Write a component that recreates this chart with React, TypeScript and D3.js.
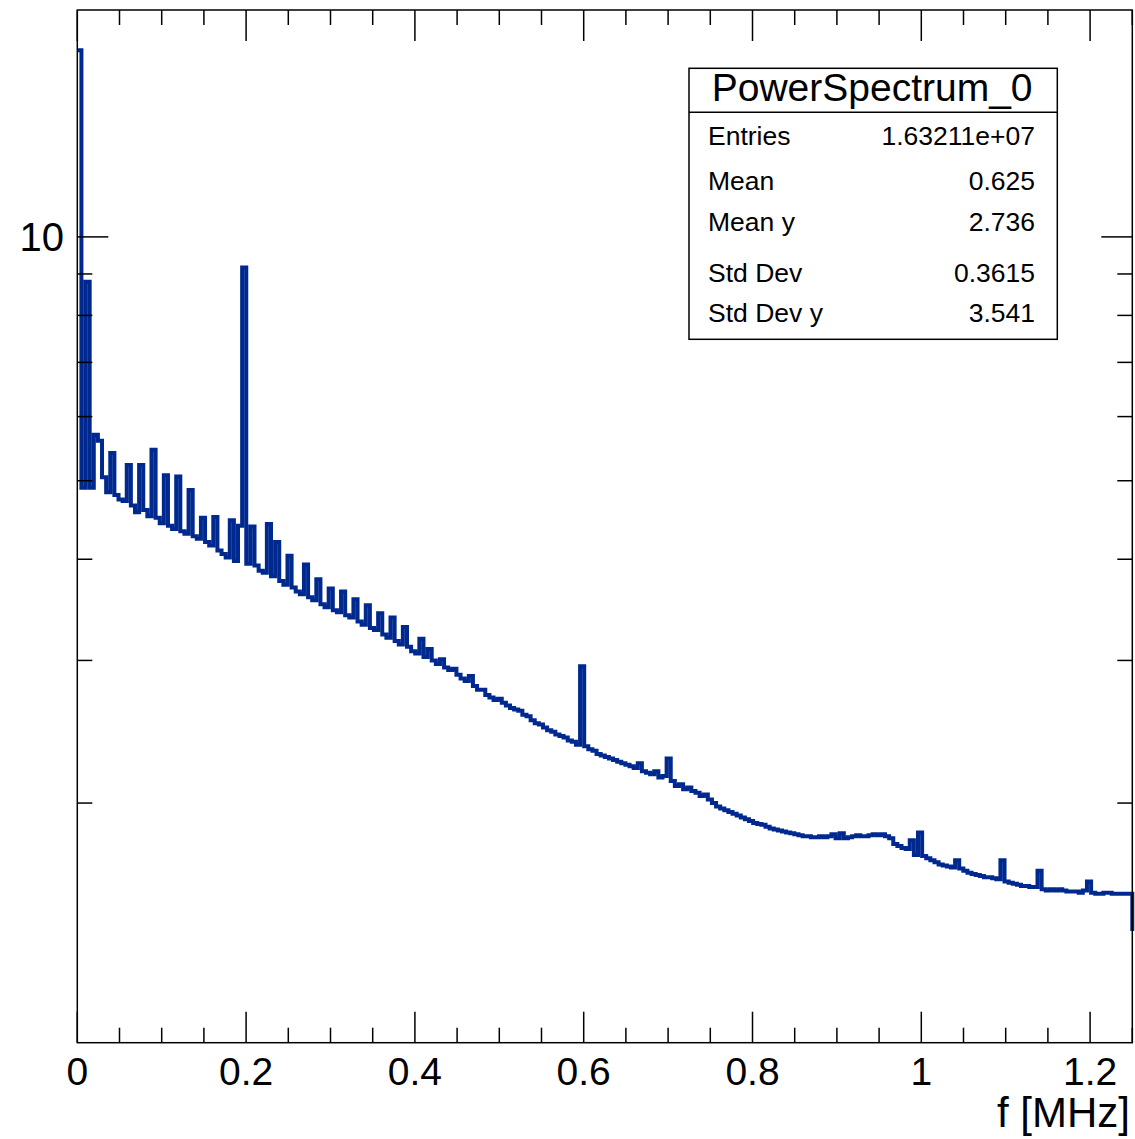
import React, { useRef, useEffect } from 'react'
import * as d3 from 'd3'

// histogram: 256 bins over [0, 1.25] MHz
const fMin = 0
const fMax = 1.25
const power = [
    17.0, 4.9, 8.8, 4.9, 5.7, 5.6, 5.05, 4.84, 5.41, 4.80,
    4.74, 4.72, 5.23, 4.66, 4.57, 5.23, 4.60, 4.52, 5.46, 4.50,
    4.43, 5.08, 4.40, 4.36, 5.06, 4.33, 4.30, 4.87, 4.27, 4.24,
    4.50, 4.20, 4.16, 4.51, 4.10, 4.06, 4.02, 4.47, 3.98, 4.40,
    9.17, 3.95, 4.39, 3.93, 3.87, 3.85, 4.42, 3.81, 4.20, 3.76,
    3.72, 4.04, 3.69, 3.65, 3.62, 3.94, 3.59, 3.56, 3.78, 3.52,
    3.49, 3.68, 3.46, 3.44, 3.65, 3.41, 3.39, 3.57, 3.35, 3.32,
    3.51, 3.29, 3.27, 3.43, 3.23, 3.20, 3.39, 3.17, 3.14, 3.30,
    3.12, 3.08, 3.06, 3.19, 3.03, 3.10, 3.00, 2.97, 3.01, 2.94,
    2.92, 2.93, 2.88, 2.85, 2.83, 2.87, 2.79, 2.76, 2.76, 2.72,
    2.70, 2.68, 2.69, 2.66, 2.64, 2.62, 2.61, 2.60, 2.57, 2.56,
    2.53, 2.51, 2.50, 2.48, 2.46, 2.45, 2.43, 2.42, 2.41, 2.39,
    2.38, 2.36, 2.95, 2.35, 2.33, 2.32, 2.30, 2.29, 2.28, 2.27,
    2.26, 2.25, 2.24, 2.23, 2.22, 2.21, 2.24, 2.19, 2.18, 2.17,
    2.19, 2.15, 2.16, 2.27, 2.13, 2.10, 2.11, 2.08, 2.09, 2.07,
    2.06, 2.04, 2.05, 2.02, 2.00, 1.98, 1.97, 1.96, 1.95, 1.94,
    1.93, 1.92, 1.91, 1.90, 1.89, 1.885, 1.88, 1.87, 1.86, 1.855,
    1.85, 1.845, 1.84, 1.835, 1.83, 1.825, 1.82, 1.82, 1.815, 1.815,
    1.82, 1.815, 1.82, 1.83, 1.81, 1.835, 1.81, 1.815, 1.82, 1.825,
    1.82, 1.82, 1.825, 1.83, 1.825, 1.83, 1.82, 1.81, 1.78, 1.77,
    1.76, 1.755, 1.80, 1.725, 1.84, 1.72, 1.71, 1.70, 1.69, 1.68,
    1.675, 1.67, 1.665, 1.70, 1.66, 1.65, 1.64, 1.635, 1.63, 1.625,
    1.62, 1.62, 1.615, 1.61, 1.70, 1.60, 1.595, 1.59, 1.585, 1.58,
    1.58, 1.575, 1.575, 1.65, 1.565, 1.56, 1.565, 1.56, 1.565, 1.56,
    1.555, 1.555, 1.555, 1.55, 1.56, 1.60, 1.55, 1.545, 1.545, 1.55,
    1.55, 1.545, 1.545, 1.545, 1.545, 1.545,
]
// first bin past the visible range (only its left edge shows)
const overflowBin = 1.39

const xMajorTicks = [0, 0.2, 0.4, 0.6, 0.8, 1, 1.2]
const xTickLabels = ['0', '0.2', '0.4', '0.6', '0.8', '1', '1.2']
const xMinorStep = 0.05
const yMajorTicks = [10]
const yTickLabels = ['10']
const yMinorTicks = [2, 3, 4, 5, 6, 7, 8, 9]
const yLimits = [1.012, 19.06]
const xTitle = 'f [MHz]'

const statsTitle = 'PowerSpectrum_0'
const statsLabels = ['Entries', 'Mean', 'Mean y', 'Std Dev', 'Std Dev y']
const statsValues = ['1.63211e+07', '0.625', '2.736', '0.3615', '3.541']

const W = 1135
const H = 1139
const FONT = '"Liberation Sans", Arial, Helvetica, sans-serif'
const LINE = '#00298f'

const App = () => {
    const ref = useRef(null)

    useEffect(() => {
        if (!ref.current) return
        const svg = d3.select(ref.current)
        svg.selectAll('*').remove()

        const left = 77.3, right = 1132.3, top = 10, bottom = 1042.7

        const x = d3.scaleLinear().domain([fMin, fMax]).range([left, right])
        const y = d3.scaleLog().domain(yLimits).range([bottom, top])

        const binW = (fMax - fMin) / power.length
        const pts = power.map((v, i) => [fMin + i * binW, v])
        pts.push([fMax, overflowBin])

        const line = d3.line()
            .x(d => x(d[0]))
            .y(d => y(d[1]))
            .curve(d3.curveStepAfter)

        svg.append('rect')
            .attr('width', W).attr('height', H).attr('fill', 'white')

        svg.append('path')
            .datum(pts)
            .attr('d', line)
            .attr('fill', 'none')
            .attr('stroke', LINE)
            .attr('stroke-width', 4)
            .attr('stroke-linejoin', 'miter')

        // frame
        svg.append('rect')
            .attr('x', left).attr('y', top)
            .attr('width', right - left).attr('height', bottom - top)
            .attr('fill', 'none').attr('stroke', '#000').attr('stroke-width', 1.5)

        const tickG = svg.append('g').attr('stroke', '#000').attr('stroke-width', 1.5)
        const major = 31, minor = 15

        const xMinor = d3.range(fMin, fMax + 1e-9, xMinorStep)
        xMinor.forEach(t => {
            const isMajor = xMajorTicks.some(m => Math.abs(m - t) < 1e-9)
            const len = isMajor ? major : minor
            tickG.append('line').attr('x1', x(t)).attr('x2', x(t)).attr('y1', bottom).attr('y2', bottom - len)
            tickG.append('line').attr('x1', x(t)).attr('x2', x(t)).attr('y1', top).attr('y2', top + len)
        })

        const yTicks = [...yMajorTicks.map(v => [v, major]), ...yMinorTicks.map(v => [v, minor])]
        yTicks.forEach(([v, len]) => {
            tickG.append('line').attr('x1', left).attr('x2', left + len).attr('y1', y(v)).attr('y2', y(v))
            tickG.append('line').attr('x1', right).attr('x2', right - len).attr('y1', y(v)).attr('y2', y(v))
        })

        // tick labels
        svg.append('g')
            .selectAll('text')
            .data(xMajorTicks)
            .join('text')
            .attr('x', d => x(d))
            .attr('y', 1085)
            .attr('text-anchor', 'middle')
            .attr('font-family', FONT)
            .attr('font-size', 39)
            .text((_, i) => xTickLabels[i])

        svg.append('g')
            .selectAll('text')
            .data(yMajorTicks)
            .join('text')
            .attr('x', 64)
            .attr('y', d => y(d) + 14)
            .attr('text-anchor', 'end')
            .attr('font-family', FONT)
            .attr('font-size', 40)
            .text((_, i) => yTickLabels[i])

        svg.append('text')
            .attr('x', 1130).attr('y', 1127)
            .attr('text-anchor', 'end')
            .attr('font-family', FONT)
            .attr('font-size', 42)
            .text(xTitle)

        // stats box
        const bx0 = 689, by0 = 68.3, bx1 = 1057.3, by1 = 339.3, hdr = 112.3
        const box = svg.append('g')
        box.append('rect')
            .attr('x', bx0).attr('y', by0)
            .attr('width', bx1 - bx0).attr('height', by1 - by0)
            .attr('fill', 'white').attr('stroke', '#000').attr('stroke-width', 1.5)
        box.append('line')
            .attr('x1', bx0).attr('x2', bx1).attr('y1', hdr).attr('y2', hdr)
            .attr('stroke', '#000').attr('stroke-width', 1.5)
        box.append('text')
            .attr('x', (bx0 + bx1) / 2 - 1).attr('y', 101)
            .attr('text-anchor', 'middle')
            .attr('font-family', FONT)
            .attr('font-size', 39)
            .text(statsTitle)

        const rowBase = [145, 190, 231, 281.5, 321.5]
        statsLabels.forEach((lab, i) => {
            box.append('text')
                .attr('x', 708).attr('y', rowBase[i])
                .attr('font-family', FONT).attr('font-size', 26.5)
                .text(lab)
            box.append('text')
                .attr('x', 1035).attr('y', rowBase[i])
                .attr('text-anchor', 'end')
                .attr('font-family', FONT).attr('font-size', 26.5)
                .text(statsValues[i])
        })
    }, [])

    return (
        <svg ref={ref} width={W} height={H}
            style={{ position: 'absolute', left: 0, top: 0, display: 'block' }} />
    )
}

export default App
